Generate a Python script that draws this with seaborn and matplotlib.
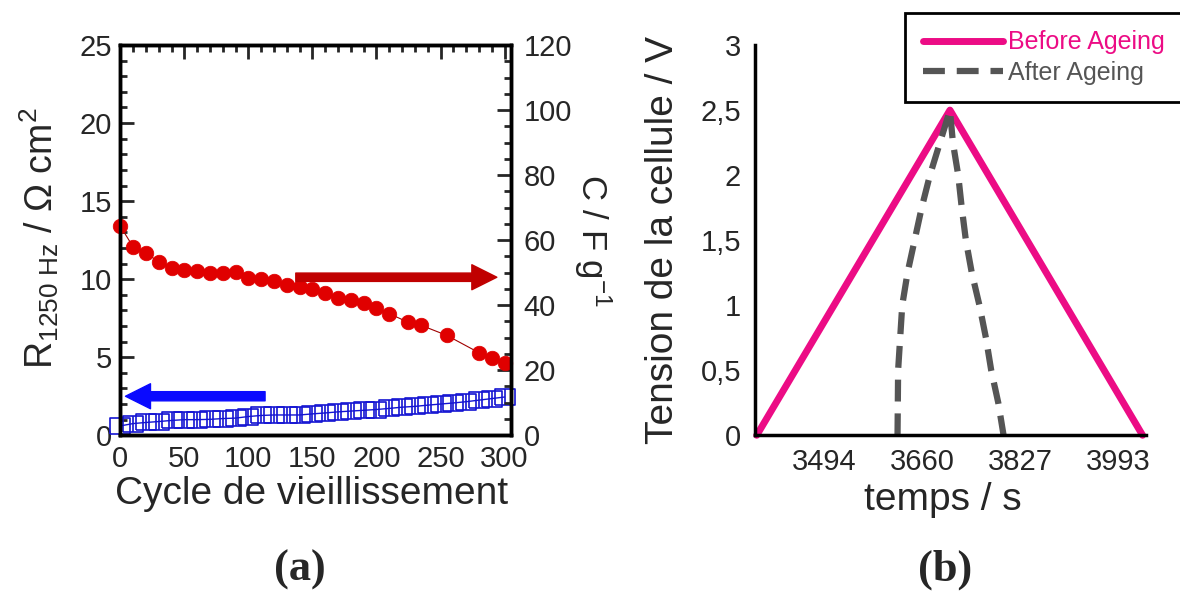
import matplotlib
matplotlib.use("Agg")
import matplotlib.pyplot as plt
import seaborn as sns
from matplotlib.ticker import MultipleLocator, AutoMinorLocator, FixedLocator

# ---- (a) ageing test ----
cycles_c = [0, 10, 20, 30, 40, 50, 60, 70, 80, 90, 100, 110, 120, 130, 140,
            150, 160, 170, 180, 190, 200, 210, 225, 235, 255, 280, 290, 300]
capacitance = [64.3, 57.9, 56.2, 53.2, 51.5, 50.8, 50.5, 49.9, 49.9, 50.2,
               48.4, 48.2, 47.5, 46.2, 45.6, 45.1, 43.6, 42.3, 41.5, 40.7,
               39.0, 37.4, 34.7, 33.8, 30.7, 25.4, 23.9, 22.3]
cycles_r = [0, 10, 20, 30, 40, 50, 60, 70, 80, 90, 100, 110, 120, 130, 140, 150,
            160, 170, 180, 190, 200, 210, 220, 230, 240, 250, 260, 270, 280, 290, 300]
resistance = [0.6, 0.75, 0.82, 0.88, 0.95, 1.0, 1.0, 1.02, 1.07, 1.1, 1.2,
              1.27, 1.3, 1.3, 1.3, 1.37, 1.43, 1.5, 1.55, 1.6, 1.65, 1.72,
              1.8, 1.85, 1.93, 2.0, 2.07, 2.15, 2.25, 2.35, 2.45]

# ---- (b) galvanostatic cycle ----
t_before = [3380, 3708, 4035]
v_before = [0, 2.5, 0]
t_after = [3619, 3620, 3627, 3636, 3648, 3660, 3674, 3691, 3708, 3713,
           3722, 3728, 3735, 3745, 3758, 3769, 3778, 3790, 3799]
v_after = [0, 0.5, 1.0, 1.25, 1.5, 1.75, 2.0, 2.25, 2.5, 2.25,
           2.0, 1.75, 1.5, 1.25, 1.0, 0.75, 0.5, 0.25, 0]
time_ticks = [3494, 3660.5, 3827, 3993.5]
time_labels = ["3494", "3660", "3827", "3993"]
volt_ticks = [0, 0.5, 1, 1.5, 2, 2.5, 3]
volt_labels = ["0", "0,5", "1", "1,5", "2", "2,5", "3"]
series_names = ["Before Ageing", "After Ageing"]

RED, DARKRED, BLUE = "#e00000", "#c00000", "#1414d2"
PINK, GREY = "#ec0c85", "#555555"

sns.set_style("white")
plt.rcParams["font.family"] = ["Liberation Sans", "DejaVu Sans"]
plt.rcParams["mathtext.fontset"] = "custom"
plt.rcParams["mathtext.rm"] = "Liberation Sans"
plt.rcParams["mathtext.it"] = "Liberation Sans:italic"

fig = plt.figure(figsize=(11.8, 5.93), dpi=100)

# ---------------- panel (a) ----------------
ax = fig.add_axes([0.102, 0.266, 0.331, 0.658])
ax2 = ax.twinx()

wide_square = [(-1.25, -1), (1.25, -1), (1.25, 1), (-1.25, 1), (-1.25, -1)]
sns.lineplot(x=cycles_r, y=resistance, ax=ax, color=BLUE, lw=1, marker=wide_square,
             markersize=14, markerfacecolor="none", markeredgecolor=BLUE,
             markeredgewidth=1.2, clip_on=False)
ax.plot(cycles_r, resistance, linestyle="none", marker="|", ms=11, mew=1.2,
        color=BLUE, clip_on=False)
sns.lineplot(x=cycles_c, y=capacitance, ax=ax2, color="#a00000", lw=0.8,
             marker="o", markersize=10.5, markerfacecolor=RED,
             markeredgecolor=RED, markeredgewidth=0.5, clip_on=False)

ax.set_xlim(0, 305)
ax.set_ylim(0, 25)
ax2.set_ylim(0, 120)
ax.xaxis.set_major_locator(MultipleLocator(50))
ax.xaxis.set_minor_locator(MultipleLocator(10))
ax.yaxis.set_major_locator(MultipleLocator(5))
ax.yaxis.set_minor_locator(MultipleLocator(1))
ax2.yaxis.set_major_locator(MultipleLocator(20))
ax2.yaxis.set_minor_locator(MultipleLocator(5))
ax.tick_params(which="both", direction="in", top=True, right=False, width=2,
               labelsize=21, pad=6)
ax.tick_params(axis="x", pad=7)
ax.tick_params(which="major", length=10)
ax.tick_params(which="minor", length=5)
ax2.tick_params(which="both", direction="in", width=2, labelsize=21, pad=9)
ax2.tick_params(which="major", length=10)
ax2.tick_params(which="minor", length=5)
for a in (ax, ax2):
    for s in a.spines.values():
        s.set_linewidth(2.5)
        s.set_color("black")

ax.set_xlabel("Cycle de vieillissement", fontsize=28, va="center")
ax.xaxis.set_label_coords(0.49, -0.15)
ax.set_ylabel(r"R$_{\mathrm{1250\ Hz}}$ / $\Omega$ cm$^{2}$", fontsize=27, va="center")
ax.yaxis.set_label_coords(-0.208, 0.505)
ax2.set_ylabel(r"C / F g$^{-1}$", fontsize=25, rotation=270, va="center")
ax2.yaxis.set_label_coords(1.21, 0.5)

ax2.annotate("", xy=(294, 48.6), xytext=(137, 48.6),
             arrowprops=dict(arrowstyle="simple,head_length=0.9,head_width=0.9,tail_width=0.3",
                             color=DARKRED, mutation_scale=20, shrinkA=0, shrinkB=0))
ax.annotate("", xy=(4, 2.5), xytext=(113, 2.5),
            arrowprops=dict(arrowstyle="simple,head_length=0.9,head_width=0.9,tail_width=0.33",
                            color="#0a0aff", mutation_scale=20, shrinkA=0, shrinkB=0))

# ---------------- panel (b) ----------------
axb = fig.add_axes([0.6398, 0.266, 0.331, 0.658])
sns.lineplot(x=t_before, y=v_before, ax=axb, color=PINK, lw=5,
             label=series_names[0], clip_on=False)
sns.lineplot(x=t_after, y=v_after, ax=axb, color=GREY, lw=4.5,
             linestyle=(0, (3.5, 1.9)), label=series_names[1])

axb.set_xlim(3377, 4040)
axb.set_ylim(0, 3)
axb.xaxis.set_major_locator(FixedLocator(time_ticks))
axb.set_xticklabels(time_labels)
axb.xaxis.set_minor_locator(AutoMinorLocator(4))
axb.yaxis.set_major_locator(FixedLocator(volt_ticks))
axb.set_yticklabels(volt_labels)
axb.yaxis.set_minor_locator(AutoMinorLocator(5))
axb.tick_params(which="both", direction="in", width=2, labelsize=21)
axb.tick_params(axis="y", pad=10)
axb.tick_params(axis="x", pad=9)
axb.tick_params(which="major", length=12)
axb.tick_params(which="minor", length=6)
for side in ("top", "right"):
    axb.spines[side].set_visible(False)
for side in ("left", "bottom"):
    axb.spines[side].set_linewidth(2.5)
    axb.spines[side].set_color("black")

axb.set_xlabel("temps / s", fontsize=28, va="center")
axb.xaxis.set_label_coords(0.48, -0.165)
axb.set_ylabel("Tension de la cellule / V", fontsize=28, va="center")
axb.yaxis.set_label_coords(-0.235, 0.5)

leg = axb.legend(loc="upper left", bbox_to_anchor=(905 / 1180, 1 - 13 / 593),
                 bbox_transform=fig.transFigure, borderaxespad=0, fontsize=18,
                 frameon=True, fancybox=False, edgecolor="black", framealpha=1,
                 handlelength=3.2, labelcolor="linecolor", borderpad=0.7,
                 labelspacing=0.25, handletextpad=0.2)
leg.get_frame().set_linewidth(2)

fig.text(300 / 1180, 1 - 570 / 593, "(a)", ha="center", va="center",
         fontsize=32, fontweight="bold", family="Liberation Serif")
fig.text(945 / 1180, 1 - 570 / 593, "(b)", ha="center", va="center",
         fontsize=32, fontweight="bold", family="Liberation Serif")

plt.savefig("out.png", dpi=100)
